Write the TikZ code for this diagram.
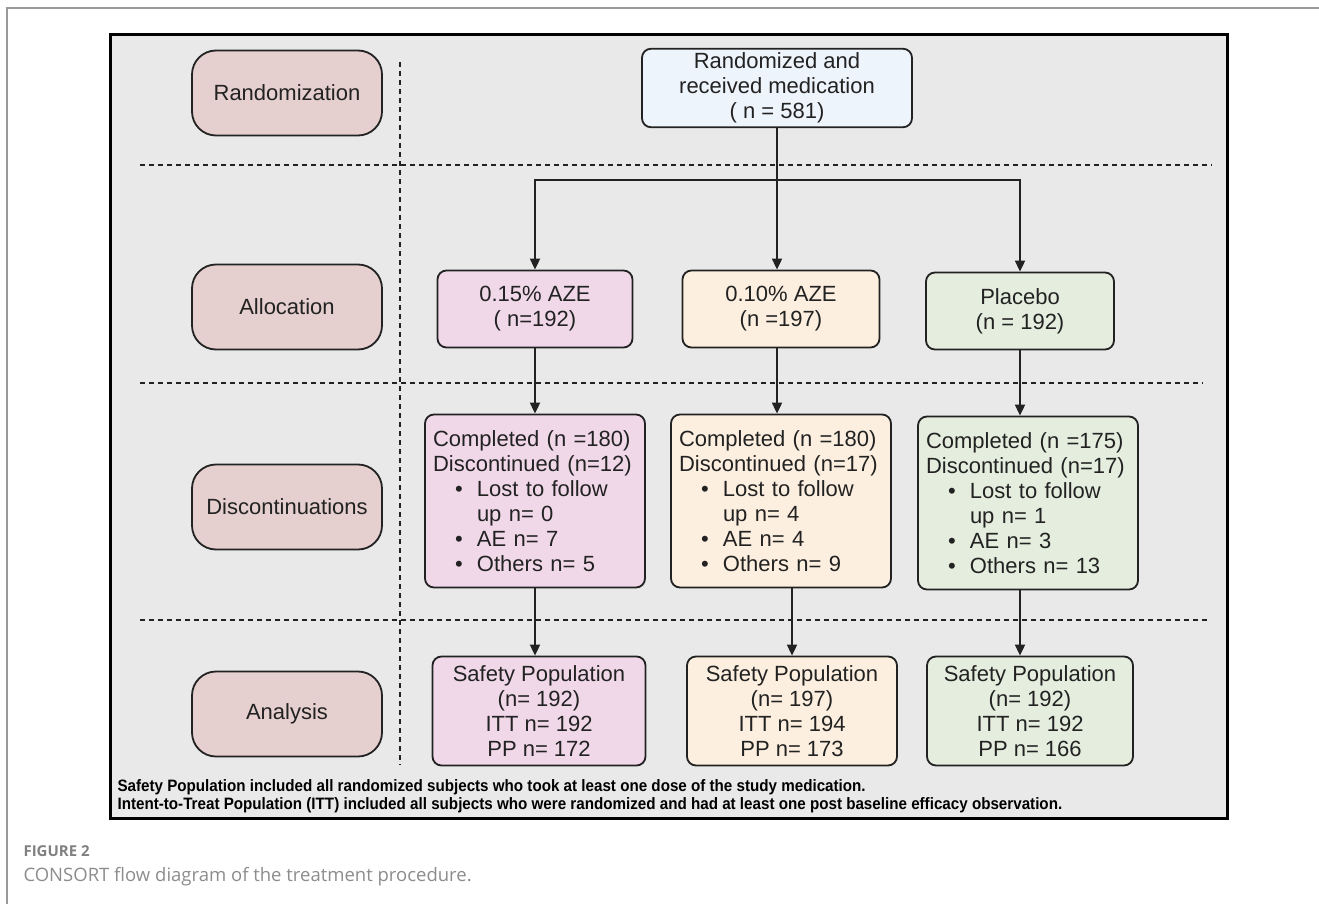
\documentclass[tikz,border=0pt]{standalone}
\usepackage{fontspec}
\setmainfont{Liberation Sans}
\newfontfamily\notefont[FakeStretch=0.92]{Liberation Sans}
\newfontfamily\capfont{Open Sans}
\usetikzlibrary{arrows.meta}

\definecolor{panel}{HTML}{E9E9E9}
\definecolor{stagec}{HTML}{E6CFCF}
\definecolor{topc}{HTML}{EEF4FB}
\definecolor{hic}{HTML}{F0D8E8}
\definecolor{loc}{HTML}{FCEFDF}
\definecolor{plc}{HTML}{E5EDDE}
\definecolor{ink}{HTML}{222222}

\newcommand{\bitem}[1]{\makebox[44pt][l]{\hspace{22pt}\textbullet}#1}
\newcommand{\bcont}[1]{\hspace*{44pt}#1}

\begin{document}
\begin{tikzpicture}[x=1pt,y=-1pt,
    box/.style={draw=ink,line width=1.8pt,rounded corners=9pt,align=center,
      text=ink,font=\fontsize{22}{25}\selectfont,inner sep=4pt},
    stage/.style={box,fill=stagec,rounded corners=24pt,minimum width=190pt,minimum height=85pt},
    alloc/.style={box,minimum height=77pt},
    drop/.style={box,align=left,text width=204pt,inner sep=8pt,minimum height=173pt},
    pop/.style={box,minimum height=109pt},
    arr/.style={-{Triangle[length=11pt,width=10pt]},line width=1.8pt,draw=ink},
    sep/.style={line width=1.8pt,draw=ink,dash pattern=on 5pt off 4pt}]
    \useasboundingbox (0,0) rectangle (1319,904);
    \draw [line width=1.5pt,color=gray!80] (7,904) -- (7,8) -- (1319,8);
    \draw [line width=3pt,fill=panel] (110,35) rectangle (1227,818);

    % stages on the left
    \node[stage] (rand) at (287,93) {Randomization};
    \node[stage] (allo) at (287,307) {Allocation};
    \node[stage] (disc) at (287,507) {Discontinuations};
    \node[stage] (anal) at (287,714) {Analysis};

    \draw [sep] (400,62) -- (400,765);
    \draw [sep] (140,165) -- (1212,165);
    \draw [sep] (140,383) -- (1203,383);
    \draw [sep] (140,620) -- (1210,620);

    \node[box,fill=topc,minimum width=270pt,minimum height=77pt] (top) at (777,88)
      {Randomized and\\received medication\\( n = 581)};

    \node[alloc,fill=hic,minimum width=195pt] (a1) at (535,309) {0.15\% AZE\\( n=192)};
    \node[alloc,fill=loc,minimum width=197pt] (a2) at (781,309) {0.10\% AZE\\(n =197)};
    \node[alloc,fill=plc,minimum width=188pt] (a3) at (1020,311) {Placebo\\(n = 192)};

    \node[drop,fill=hic] (d1) at (535,501)
      {Completed (n =180)\\Discontinued (n=12)\\\bitem{Lost to follow}\\\bcont{up n= 0}\\\bitem{AE n= 7}\\\bitem{Others n= 5}};
    \node[drop,fill=loc] (d2) at (781,501)
      {Completed (n =180)\\Discontinued (n=17)\\\bitem{Lost to follow}\\\bcont{up n= 4}\\\bitem{AE n= 4}\\\bitem{Others n= 9}};
    \node[drop,fill=plc] (d3) at (1028,503)
      {Completed (n =175)\\Discontinued (n=17)\\\bitem{Lost to follow}\\\bcont{up n= 1}\\\bitem{AE n= 3}\\\bitem{Others n= 13}};

    \node[pop,fill=hic,minimum width=213pt] (s1) at (539,711) {Safety Population\\(n= 192)\\ITT n= 192\\PP n= 172};
    \node[pop,fill=loc,minimum width=210pt] (s2) at (792,711) {Safety Population\\(n= 197)\\ITT n= 194\\PP n= 173};
    \node[pop,fill=plc,minimum width=206pt] (s3) at (1030,711) {Safety Population\\(n= 192)\\ITT n= 192\\PP n= 166};

    % arrows
    \coordinate (fork) at (777,180);
    \draw [line width=1.8pt,color=ink] (top.south) -- (fork);
    \draw [arr] (fork) -| (a1.north);
    \draw [arr] (fork) -- (fork |- a2.north);
    \draw [arr] (fork) -| (a3.north);
    \draw [arr] (a1.south) -- (a1.south |- d1.north);
    \draw [arr] (a2.south -| fork) -- (fork |- d2.north);
    \draw [arr] (a3.south) -- (a3.south |- d3.north);
    \draw [arr] (d1.south) -- (d1.south |- s1.north);
    \draw [arr] (s2.north |- d2.south) -- (s2.north);
    \draw [arr] (a3.south |- d3.south) -- (a3.south |- s3.north);

    \node[anchor=west,font=\notefont\bfseries\fontsize{16.5}{18}\selectfont] (note1) at (114,787)
      {Safety Population included all randomized subjects who took at least one dose of the study medication.};
    \node[anchor=west,font=\notefont\bfseries\fontsize{16.5}{18}\selectfont] (note2) at (114,805)
      {Intent-to-Treat Population (ITT) included all subjects who were randomized and had at least one post baseline efficacy observation.};

    \node[anchor=west,text=gray,font=\capfont\bfseries\fontsize{15}{18}\selectfont] (fig) at (20,851) {FIGURE 2};
    \node[anchor=west,text=gray!90,font=\capfont\fontsize{18.5}{22}\selectfont] (cap) at (20,877)
      {CONSORT flow diagram of the treatment procedure.};
\end{tikzpicture}
\end{document}
